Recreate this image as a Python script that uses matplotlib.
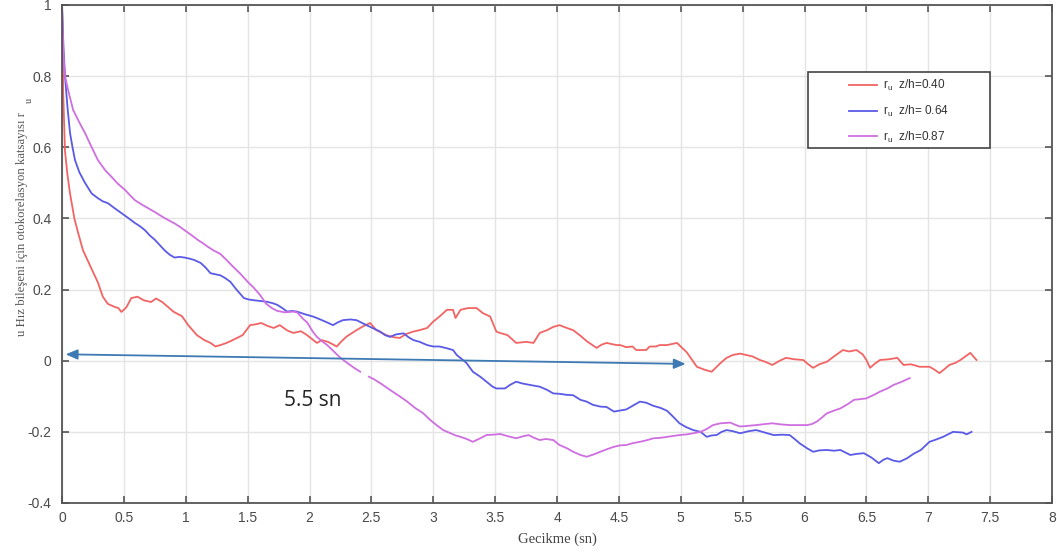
import numpy as np
import matplotlib
matplotlib.use("Agg")
import matplotlib.pyplot as plt
from matplotlib.patches import Rectangle

# Lag (s) and autocorrelation coefficient r_u for three heights z/h
lag_040 = [0.00, 0.01, 0.024, 0.045, 0.065, 0.10, 0.13, 0.17, 0.21, 0.25, 0.29, 0.33, 0.37, 0.42, 0.455,
           0.48, 0.52, 0.56, 0.61, 0.66, 0.72, 0.76, 0.81, 0.86, 0.90, 0.97, 1.02, 1.09, 1.15, 1.20, 1.24,
           1.28, 1.33, 1.38, 1.46, 1.52, 1.56, 1.61, 1.66, 1.71, 1.76, 1.82, 1.87, 1.93, 1.98, 2.06, 2.10,
           2.15, 2.22, 2.26, 2.30, 2.38, 2.44, 2.49, 2.54, 2.62, 2.68, 2.73, 2.78, 2.84, 2.89, 2.95, 3.00,
           3.05, 3.11, 3.16, 3.18, 3.22, 3.28, 3.35, 3.40, 3.46, 3.51, 3.54, 3.60, 3.67, 3.75, 3.81, 3.86,
           3.92, 3.97, 4.02, 4.08, 4.13, 4.19, 4.24, 4.32, 4.36, 4.40, 4.48, 4.51, 4.56, 4.61, 4.64, 4.72,
           4.75, 4.80, 4.83, 4.89, 4.97, 5.05, 5.13, 5.19, 5.25, 5.32, 5.37, 5.42, 5.48, 5.53, 5.58, 5.64,
           5.69, 5.74, 5.80, 5.85, 5.92, 5.99, 6.03, 6.07, 6.12, 6.18, 6.25, 6.31, 6.36, 6.42, 6.47, 6.50,
           6.53, 6.57, 6.61, 6.68, 6.75, 6.80, 6.86, 6.93, 7.01, 7.05, 7.09, 7.13, 7.17, 7.22, 7.26, 7.30,
           7.34, 7.39]
r_040 = [1.00, 0.75, 0.59, 0.52, 0.47, 0.40, 0.36, 0.31, 0.28, 0.25, 0.22, 0.18, 0.16, 0.152, 0.148,
         0.137, 0.15, 0.176, 0.18, 0.17, 0.165, 0.175, 0.165, 0.15, 0.138, 0.125, 0.10, 0.072, 0.058, 0.05, 0.04,
         0.044, 0.05, 0.058, 0.072, 0.10, 0.102, 0.106, 0.098, 0.092, 0.10, 0.085, 0.078, 0.083, 0.072, 0.05, 0.058,
         0.053, 0.04, 0.055, 0.068, 0.086, 0.098, 0.106, 0.086, 0.072, 0.066, 0.064, 0.075, 0.082, 0.086, 0.092, 0.11,
         0.124, 0.143, 0.143, 0.12, 0.143, 0.148, 0.148, 0.134, 0.124, 0.082, 0.078, 0.072, 0.05, 0.053, 0.05, 0.078,
         0.086, 0.095, 0.10, 0.092, 0.086, 0.07, 0.055, 0.036, 0.045, 0.05, 0.044, 0.044, 0.038, 0.04, 0.03, 0.03,
         0.04, 0.04, 0.044, 0.044, 0.05, 0.023, -0.017, -0.025, -0.031, -0.007, 0.008, 0.016, 0.02, 0.016, 0.012, 0.002,
         -0.004, -0.012, 0.0, 0.008, 0.004, 0.002, -0.01, -0.02, -0.01, -0.003, 0.015, 0.03, 0.026, 0.03, 0.018, 0.002,
         -0.02, -0.008, 0.002, 0.004, 0.008, -0.012, -0.01, -0.017, -0.017, -0.025, -0.035, -0.024, -0.012, -0.006, 0.002, 0.012,
         0.022, 0.002]

lag_064 = [0.00, 0.012, 0.024, 0.045, 0.065, 0.085, 0.105, 0.14, 0.186, 0.24, 0.29, 0.33, 0.37, 0.42, 0.48,
           0.54, 0.59, 0.63, 0.67, 0.71, 0.75, 0.79, 0.83, 0.87, 0.91, 0.95, 0.99, 1.03, 1.07, 1.12, 1.16,
           1.20, 1.24, 1.28, 1.32, 1.36, 1.41, 1.47, 1.51, 1.55, 1.60, 1.65, 1.70, 1.74, 1.78, 1.82, 1.86,
           1.90, 1.96, 2.03, 2.08, 2.14, 2.19, 2.23, 2.27, 2.33, 2.38, 2.42, 2.46, 2.52, 2.57, 2.61, 2.65,
           2.70, 2.76, 2.80, 2.84, 2.89, 2.95, 3.00, 3.05, 3.11, 3.16, 3.19, 3.24, 3.27, 3.32, 3.38, 3.43,
           3.48, 3.51, 3.58, 3.62, 3.67, 3.72, 3.78, 3.86, 3.92, 3.97, 4.02, 4.08, 4.13, 4.19, 4.24, 4.29,
           4.35, 4.40, 4.46, 4.51, 4.56, 4.62, 4.67, 4.72, 4.78, 4.84, 4.89, 4.94, 4.99, 5.04, 5.10, 5.16,
           5.21, 5.25, 5.29, 5.33, 5.37, 5.42, 5.48, 5.55, 5.61, 5.68, 5.75, 5.82, 5.88, 5.92, 5.96, 6.02,
           6.07, 6.12, 6.18, 6.24, 6.29, 6.33, 6.37, 6.42, 6.48, 6.54, 6.60, 6.64, 6.67, 6.72, 6.77, 6.83,
           6.88, 6.94, 7.01, 7.06, 7.12, 7.16, 7.20, 7.24, 7.28, 7.31, 7.35]
r_064 = [1.00, 0.88, 0.80, 0.71, 0.64, 0.60, 0.564, 0.53, 0.50, 0.47, 0.457, 0.448, 0.443, 0.43, 0.415,
         0.40, 0.387, 0.378, 0.367, 0.352, 0.34, 0.325, 0.31, 0.298, 0.29, 0.292, 0.29, 0.287, 0.283, 0.275, 0.262,
         0.246, 0.243, 0.24, 0.232, 0.222, 0.20, 0.176, 0.172, 0.17, 0.168, 0.166, 0.162, 0.157, 0.148, 0.138, 0.14,
         0.138, 0.131, 0.124, 0.117, 0.108, 0.10, 0.108, 0.114, 0.116, 0.114, 0.107, 0.10, 0.09, 0.082, 0.072, 0.067,
         0.074, 0.077, 0.066, 0.058, 0.053, 0.044, 0.04, 0.04, 0.035, 0.03, 0.016, 0.002, -0.007, -0.031, -0.045, -0.059,
         -0.073, -0.078, -0.078, -0.068, -0.059, -0.064, -0.068, -0.073, -0.082, -0.092, -0.093, -0.096, -0.097, -0.11, -0.115, -0.124,
         -0.129, -0.13, -0.143, -0.14, -0.137, -0.125, -0.115, -0.118, -0.127, -0.133, -0.141, -0.158, -0.176, -0.186, -0.195, -0.20,
         -0.214, -0.21, -0.209, -0.20, -0.195, -0.198, -0.204, -0.198, -0.195, -0.202, -0.209, -0.208, -0.209, -0.22, -0.232, -0.246,
         -0.256, -0.252, -0.251, -0.253, -0.251, -0.258, -0.265, -0.262, -0.26, -0.272, -0.288, -0.278, -0.274, -0.281, -0.284, -0.274,
         -0.262, -0.251, -0.228, -0.222, -0.214, -0.207, -0.20, -0.201, -0.202, -0.207, -0.20]

lag_087 = [0.00, 0.012, 0.024, 0.05, 0.09, 0.14, 0.186, 0.24, 0.29, 0.35, 0.40, 0.45, 0.51, 0.55, 0.59,
           0.64, 0.70, 0.75, 0.81, 0.86, 0.91, 0.95, 0.99, 1.05, 1.10, 1.14, 1.18, 1.22, 1.28, 1.33, 1.38,
           1.44, 1.50, 1.55, 1.60, 1.65, 1.70, 1.74, 1.80, 1.87, 1.90, 1.95, 1.98, 2.03, 2.06, 2.10, 2.14,
           2.20, 2.25, 2.30, 2.36, 2.41, 2.445, 2.48, 2.52, 2.58, 2.65, 2.72, 2.79, 2.85, 2.92, 2.97, 3.03,
           3.08, 3.14, 3.18, 3.22, 3.27, 3.32, 3.38, 3.43, 3.48, 3.54, 3.60, 3.67, 3.72, 3.77, 3.81, 3.86,
           3.91, 3.97, 4.02, 4.08, 4.13, 4.19, 4.24, 4.30, 4.35, 4.41, 4.46, 4.51, 4.56, 4.61, 4.67, 4.72,
           4.78, 4.83, 4.89, 4.95, 4.99, 5.05, 5.10, 5.16, 5.21, 5.26, 5.32, 5.36, 5.40, 5.44, 5.48, 5.55,
           5.61, 5.68, 5.74, 5.81, 5.88, 5.95, 6.02, 6.06, 6.10, 6.14, 6.18, 6.24, 6.29, 6.35, 6.40, 6.45,
           6.50, 6.56, 6.61, 6.67, 6.72, 6.78, 6.85]
r_087 = [1.00, 0.86, 0.80, 0.76, 0.705, 0.67, 0.64, 0.60, 0.564, 0.535, 0.517, 0.498, 0.48, 0.465, 0.451,
         0.44, 0.428, 0.418, 0.405, 0.395, 0.386, 0.377, 0.367, 0.352, 0.339, 0.33, 0.32, 0.311, 0.30, 0.283, 0.265,
         0.245, 0.222, 0.205, 0.185, 0.16, 0.147, 0.14, 0.136, 0.138, 0.136, 0.117, 0.108, 0.08, 0.067, 0.055, 0.045,
         0.025, 0.008, -0.005, -0.02, -0.031, np.nan, -0.045, -0.052, -0.065, -0.082, -0.098, -0.115, -0.132, -0.148, -0.165, -0.182,
         -0.195, -0.204, -0.21, -0.214, -0.22, -0.228, -0.218, -0.209, -0.208, -0.206, -0.212, -0.218, -0.213, -0.209, -0.216, -0.223,
         -0.22, -0.223, -0.237, -0.246, -0.256, -0.265, -0.27, -0.263, -0.256, -0.248, -0.242, -0.238, -0.237, -0.232, -0.228, -0.224,
         -0.218, -0.217, -0.214, -0.211, -0.209, -0.207, -0.204, -0.20, -0.192, -0.181, -0.176, -0.175, -0.174, -0.18, -0.185, -0.183,
         -0.181, -0.178, -0.176, -0.179, -0.181, -0.181, -0.181, -0.178, -0.171, -0.16, -0.148, -0.14, -0.134, -0.122, -0.11, -0.108,
         -0.106, -0.096, -0.087, -0.078, -0.068, -0.06, -0.049]

series_labels = [r"r$_\mathregular{u}$  z/h=0.40", r"r$_\mathregular{u}$  z/h= 0.64", r"r$_\mathregular{u}$  z/h=0.87"]
series_colors = ["#f26464", "#5a5ae6", "#cf6ee0"]

x_ticks = [0, 0.5, 1, 1.5, 2, 2.5, 3, 3.5, 4, 4.5, 5, 5.5, 6, 6.5, 7, 7.5, 8]
x_tick_labels = ["0", "0.5", "1", "1.5", "2", "2.5", "3", "3.5", "4", "4.5", "5", "5.5", "6", "6.5", "7", "7.5", "8"]
y_ticks = [-0.4, -0.2, 0, 0.2, 0.4, 0.6, 0.8, 1]
y_tick_labels = ["-0.4", "-0.2", "0", "0.2", "0.4", "0.6", "0.8", "1"]

# Span annotation (decorrelation time)
span_start = (0.03, 0.018)
span_end = (5.04, -0.009)
span_text = "5.5 sn"

plt.rcParams["font.family"] = ["Liberation Sans", "DejaVu Sans"]
plt.rcParams["mathtext.fontset"] = "custom"
plt.rcParams["mathtext.rm"] = "Liberation Sans"

W, H = 1057, 552
fig = plt.figure(figsize=(W / 100, H / 100), dpi=100)
ax = fig.add_axes([62 / W, 1 - 503 / H, 990 / W, 498 / H])

for xs, ys, c, lab in zip([lag_040, lag_064, lag_087], [r_040, r_064, r_087], series_colors, series_labels):
    ax.plot(xs, ys, color=c, lw=1.3, label=lab)

ax.set_xlim(0, 8)
ax.set_ylim(-0.4, 1)
ax.set_xticks(x_ticks)
ax.set_xticklabels(x_tick_labels)
ax.set_yticks(y_ticks)
ax.set_yticklabels(y_tick_labels)
ax.grid(True, color="#e4e4e4", lw=1.0)
ax.set_axisbelow(True)
ax.tick_params(direction="in", top=True, right=True, length=5, width=1.2,
               color="#555555", labelcolor="#4a4a4a", labelsize=10)
ax.tick_params(axis="y", pad=7.5)
ax.tick_params(axis="x", pad=6)
for sp in ax.spines.values():
    sp.set_color("#555555")
    sp.set_linewidth(1.3)

ax.annotate("", xy=span_end, xytext=span_start,
            arrowprops=dict(arrowstyle="<|-|>,head_length=0.7,head_width=0.3",
                            color="#3d7ab3", lw=1.3, shrinkA=0, shrinkB=0))
ax.text(2.03, -0.111, span_text, fontsize=15, ha="center", va="center",
        color="#222222", family=["Open Sans", "DejaVu Sans"])

ax.set_xlabel("Gecikme (sn)", family=["Liberation Serif", "DejaVu Serif"],
              fontsize=10.5, color="#444444", labelpad=5)

fig.text(22 / W, 1 - 224 / H, "u Hız bileşeni için otokorelasyon katsayısı r",
         rotation=90, ha="center", va="center", fontsize=9.2,
         family=["Liberation Serif", "DejaVu Serif"], color="#555555")
fig.text(29 / W, 1 - 100 / H, "u", rotation=90, ha="center", va="center",
         fontsize=7.5, family=["Liberation Serif", "DejaVu Serif"], color="#555555")

# Legend box drawn as a plain rectangle around a frameless legend
ax.add_patch(Rectangle(((808 - 62) / 990, (503 - 148) / 498), 182 / 990, 76 / 498,
                       transform=ax.transAxes, facecolor="white", edgecolor="#444444",
                       lw=1.2, zorder=4))
leg = ax.legend(loc="upper left", bbox_to_anchor=((849 - 62) / 990, (503 - 78) / 498),
                fontsize=8.5, frameon=False, borderpad=0, borderaxespad=0,
                handlelength=2.4, labelspacing=0.9, handletextpad=0.45)
leg.set_zorder(5)
for t in leg.get_texts():
    t.set_color("#333333")

fig.savefig("out.png", dpi=100)
